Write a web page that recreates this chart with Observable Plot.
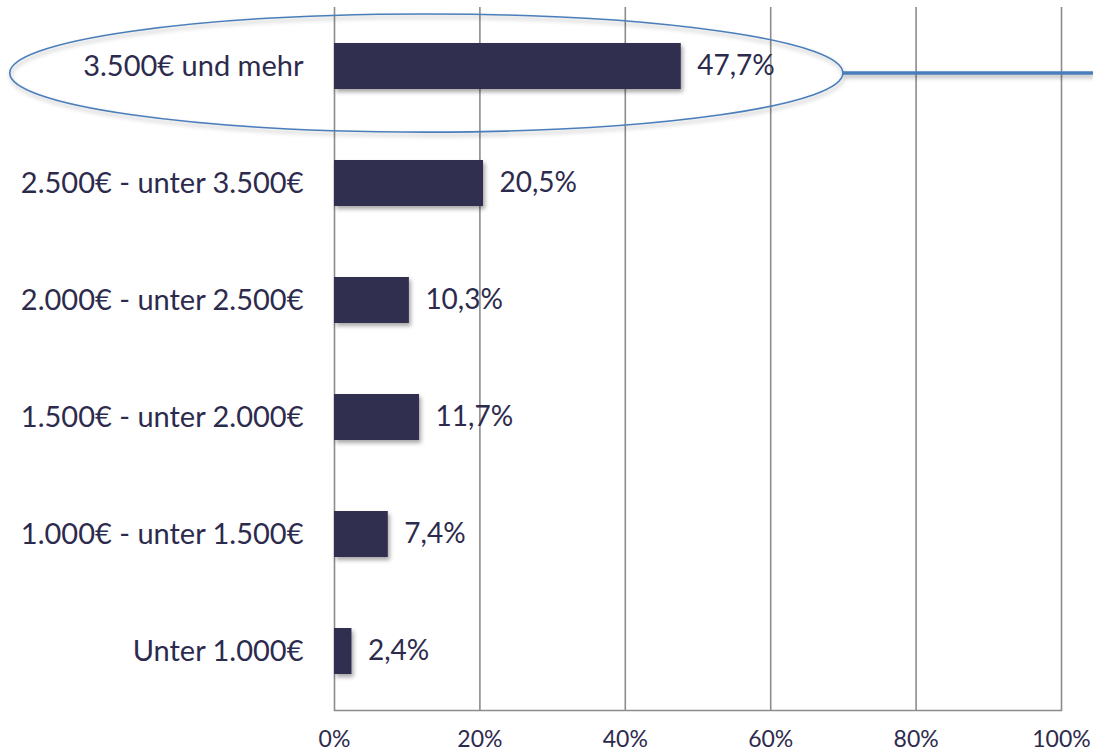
<!DOCTYPE html>
<html>
<head>
<meta charset="utf-8">
<script src="https://cdn.jsdelivr.net/npm/d3@7"></script>
<script src="https://cdn.jsdelivr.net/npm/@observablehq/plot@0.6"></script>
<style>
  html, body { margin: 0; padding: 0; background: #fff; }
  #chart svg { display: block; }
  #chart g[aria-label="bar"] rect { filter: drop-shadow(2px 3px 2px rgba(0,0,0,0.35)); }
</style>
</head>
<body>
<div id="chart"></div>
<script>
const categories = ["3.500€ und mehr", "2.500€ - unter 3.500€", "2.000€ - unter 2.500€", "1.500€ - unter 2.000€", "1.000€ - unter 1.500€", "Unter 1.000€"];
const shares = [47.7, 20.5, 10.3, 11.7, 7.4, 2.4];
const xTicks = [0, 20, 40, 60, 80, 100];
const highlighted = "3.500€ und mehr";

const data = categories.map((c, i) => ({category: c, share: shares[i]}));
const de = d3.formatLocale({decimal: ",", thousands: ".", grouping: [3], currency: ["", " €"]});
const fmtVal = d => de.format(".1f")(d) + "%";
const fmtTick = d => d + "%";

const textColor = "#2d2b4d";
const barColor = "#312f50";
const font = "Lato, 'Open Sans', sans-serif";

function highlightMark(index, scales, values, dimensions) {
  const {x, y} = scales;
  const bw = y.bandwidth ? y.bandwidth() : 0;
  const step = Math.abs(y(categories[1]) - y(categories[0]));
  const cy = y(highlighted) + bw / 2 + step * 0.06;
  const x0 = x(-44.6), x1 = x(70);
  const cx = (x0 + x1) / 2, rx = (x1 - x0) / 2, ry = step * 0.505;
  const ns = "http://www.w3.org/2000/svg";
  const g = document.createElementNS(ns, "g");
  g.setAttribute("style", "filter: drop-shadow(1px 3px 2px rgba(0,0,0,0.3))");
  const e = document.createElementNS(ns, "ellipse");
  e.setAttribute("cx", cx); e.setAttribute("cy", cy);
  e.setAttribute("rx", rx); e.setAttribute("ry", ry);
  e.setAttribute("fill", "none"); e.setAttribute("stroke", "#4a7ebb"); e.setAttribute("stroke-width", 1.6);
  g.appendChild(e);
  const l = document.createElementNS(ns, "line");
  l.setAttribute("x1", x1); l.setAttribute("x2", dimensions.width);
  l.setAttribute("y1", cy); l.setAttribute("y2", cy);
  l.setAttribute("stroke", "#4a7ebb"); l.setAttribute("stroke-width", 3.4);
  g.appendChild(l);
  return g;
}

const chart = Plot.plot({
  width: 1093,
  height: 755,
  marginLeft: 334,
  marginRight: 32,
  marginTop: 7,
  marginBottom: 45,
  style: {fontFamily: font, fontSize: "24px", color: textColor, background: "#fff", overflow: "visible"},
  x: {domain: [0, 100], ticks: xTicks, tickFormat: fmtTick},
  y: {domain: categories, paddingInner: 0.607, paddingOuter: 0.3035},
  marks: [
    Plot.ruleX(xTicks, {stroke: "#8c8c8c", strokeWidth: 1.6}),
    Plot.frame({anchor: "bottom", stroke: "#8c8c8c", strokeWidth: 1.6}),
    Plot.barX(data, {x: "share", y: "category", fill: barColor}),
    Plot.text(data, {x: "share", y: "category", text: d => fmtVal(d.share), textAnchor: "start", dx: 16, fill: textColor, fontSize: 28}),
    Plot.axisX({ticks: xTicks, tickFormat: fmtTick, tickSize: 0, tickPadding: 20, fontSize: 23, fill: textColor, label: null}),
    Plot.axisY({tickSize: 0, tickPadding: 31, fontSize: 29, fill: textColor, label: null}),
    highlightMark
  ]
});
document.getElementById("chart").appendChild(chart);
</script>
</body>
</html>
